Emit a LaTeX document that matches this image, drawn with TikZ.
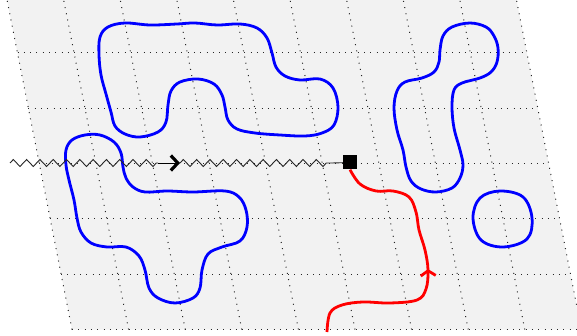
\documentclass[tikz,border=0pt]{standalone}
\usetikzlibrary{arrows.meta, decorations.pathmorphing, decorations.markings}
\begin{document}
\begin{tikzpicture}[x=1pt, y=-1pt,
    blueloop/.style={blue, line width=2.8pt},
    redpath/.style={red, line width=2.8pt},
    gridline/.style={black!85, line width=1pt, dash pattern=on 1pt off 5.3pt},
    spring/.style={black!85, line width=0.9pt, decorate,
        decoration={zigzag, segment length=13.3pt, amplitude=3.5pt}},
    site/.style={fill=black, minimum size=14pt, inner sep=0pt}
]
    \useasboundingbox (0,0) rectangle (577,336);
    % lattice
    \begin{scope}[shift={(72,329.5)}, x={(56.6pt,0pt)}, y={(-10.9pt,55.3pt)}]
        \fill[black!5] (0,0) -- (9,0) -- (9,6) -- (0,6) -- cycle;
        \foreach \i in {0,...,9} \draw[gridline] (\i,0) -- (\i,6);
        \foreach \j in {0,...,6} \draw[gridline] (0,\j) -- (9,\j);
    \end{scope}

    % loops
    \draw[blueloop] plot[smooth cycle, tension=0.6] coordinates {
        (100,37) (108,27) (125,23) (150,25) (177,24) (195,23) (217,25) (240,24)
        (257,28) (267,38) (272,53) (276,67) (285,76) (300,80) (320,79) (333,88)
        (338,107) (334,125) (322,133) (305,136) (280,135) (255,133) (237,129)
        (228,120) (225,107) (222,95) (214,84) (198,79) (180,82) (171,91)
        (168,105) (166,122) (158,132) (140,137) (125,134) (115,126) (111,112)
        (106,94) (101,75) (99,55)};
    \draw[blueloop] plot[smooth cycle, tension=0.6] coordinates {
        (66,150) (72,140) (85,135) (100,135) (114,142) (121,153) (123,167)
        (126,178) (133,187) (145,192) (167,191) (193,192) (225,191) (239,197)
        (246,210) (247,227) (240,241) (222,247) (208,254) (202,270) (200,288)
        (193,298) (175,303) (158,298) (149,288) (145,270) (139,256) (126,247)
        (107,247) (91,243) (81,232) (77,218) (74,200) (69,180) (66,165)};
    \draw[blueloop] plot[smooth cycle, tension=0.6] coordinates {
        (470,23) (452,27) (443,36) (440,50) (439,62) (434,72) (422,78)
        (405,82) (397,91) (394,108) (397,130) (403,150) (406,167) (411,181)
        (421,189) (436,192) (452,188) (460,178) (463,165) (460,150) (454,128)
        (452,107) (454,90) (462,83) (480,78) (491,72) (497,62) (498,48)
        (494,36) (486,27)};
    \draw[blueloop] plot[smooth cycle, tension=0.6] coordinates {
        (500,191) (523,197) (532,218) (527,239) (503,247) (481,240) (473,218)
        (480,198)};

    % walk
    \node[site] (sq) at (350,162.5) {};
    \coordinate (rin) at (327,332);
    \draw[redpath, postaction={decorate}, decoration={markings,
        mark=at position 0.5 with {\arrow{Straight Barb[length=5pt, width=15pt]}}}]
        plot[smooth, tension=0.6] coordinates {(rin) (330,313) (342,305) (363,302)
        (390,303) (417,300) (426,289) (428,270) (425,250) (419,230) (416,212)
        (409,197) (393,191) (376,191) (360,184) (sq.south)};

    \coordinate (zin) at (10,163);
    \coordinate (za) at (158,163);
    \coordinate (zb) at (180,163);
    \coordinate (zc) at (332,163);
    \draw[spring] (zin) -- (za);
    \draw[black, line width=0.9pt,
        -{Straight Barb[length=7pt, width=15pt, line width=3.2pt]}] (za) -- (zb);
    \draw[spring] (zb) -- (zc);
    \draw[black!85, line width=0.9pt] (zc) -- (sq);
\end{tikzpicture}
\end{document}
